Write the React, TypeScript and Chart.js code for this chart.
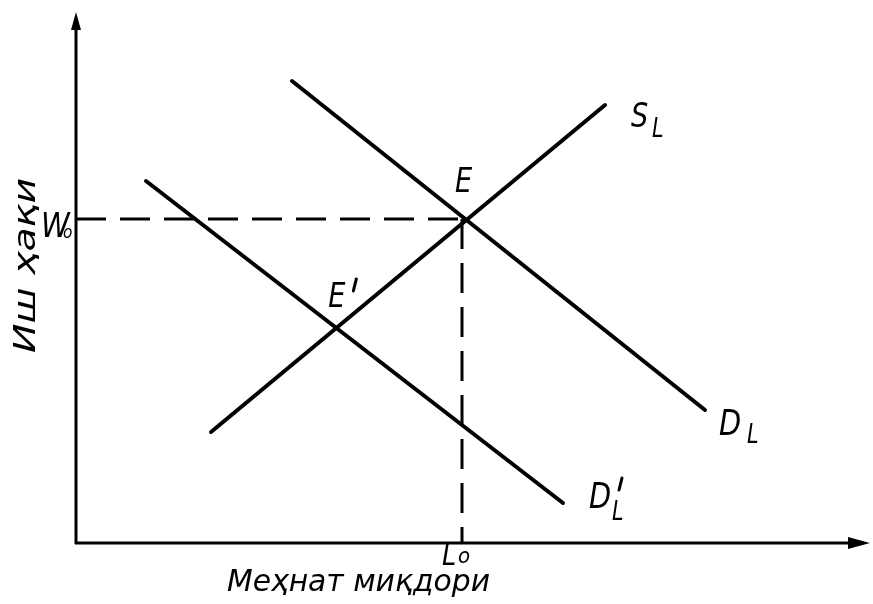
import React, { useEffect, useRef } from "react";
import { Chart, registerables } from "chart.js";

Chart.register(...registerables);

// Curve endpoints (quantity of labour, wage) in chart units
const supplyX = [135, 529];
const supplyY = [111, 438];
const demandX = [216, 629];
const demandY = [462, 133];
const demandShiftX = [70, 487];
const demandShiftY = [362, 40];
// Equilibrium levels
const wageLevel = 324; // W0
const laborLevel = 386; // L0
const axisMaxX = 794;
const axisMaxY = 531;

const xAxisTitle = "Меҳнат миқдори";
const yAxisTitle = "Иш ҳақи";

const FONT = "'DejaVu Sans', 'Liberation Sans', sans-serif";

function txt(
  ctx: CanvasRenderingContext2D,
  s: string,
  x: number,
  y: number,
  size: number,
  sx = 0.85
) {
  ctx.save();
  ctx.font = `italic ${size}px ${FONT}`;
  ctx.textBaseline = "alphabetic";
  ctx.textAlign = "left";
  ctx.fillStyle = "#000";
  ctx.translate(x, y);
  ctx.scale(sx, 1);
  ctx.fillText(s, 0, 0);
  ctx.restore();
}

function txtFit(
  ctx: CanvasRenderingContext2D,
  s: string,
  x: number,
  y: number,
  size: number,
  width: number,
  rot = 0
) {
  ctx.save();
  ctx.font = `italic ${size}px ${FONT}`;
  ctx.textBaseline = "alphabetic";
  ctx.textAlign = "left";
  ctx.fillStyle = "#000";
  const w = ctx.measureText(s).width;
  ctx.translate(x, y);
  ctx.rotate(rot);
  ctx.scale(width / w, 1);
  ctx.fillText(s, 0, 0);
  ctx.restore();
}

function prime(ctx: CanvasRenderingContext2D, x: number, yTop: number, len: number) {
  ctx.save();
  ctx.strokeStyle = "#000";
  ctx.lineWidth = 3;
  ctx.lineCap = "round";
  ctx.beginPath();
  ctx.moveTo(x + 3, yTop);
  ctx.lineTo(x, yTop + len);
  ctx.stroke();
  ctx.restore();
}

function intersect(
  ax: number[], ay: number[], bx: number[], by: number[]
): [number, number] {
  const m1 = (ay[1] - ay[0]) / (ax[1] - ax[0]);
  const m2 = (by[1] - by[0]) / (bx[1] - bx[0]);
  const x = (by[0] - ay[0] + m1 * ax[0] - m2 * bx[0]) / (m1 - m2);
  return [x, ay[0] + m1 * (x - ax[0])];
}

const diagramPlugin = {
  id: "diagram",
  afterDatasetsDraw(chart: any) {
    const ctx: CanvasRenderingContext2D = chart.ctx;
    const xs = chart.scales.x;
    const ys = chart.scales.y;
    const px = (v: number) => xs.getPixelForValue(v);
    const py = (v: number) => ys.getPixelForValue(v);
    const x0 = px(0);
    const y0 = py(0);
    const xEnd = px(axisMaxX);
    const yEnd = py(axisMaxY);

    ctx.save();
    ctx.strokeStyle = "#000";
    ctx.fillStyle = "#000";
    ctx.lineWidth = 3;
    ctx.lineCap = "butt";
    // y axis
    ctx.beginPath();
    ctx.moveTo(x0, y0 + 1);
    ctx.lineTo(x0, yEnd + 10);
    ctx.stroke();
    // x axis
    ctx.beginPath();
    ctx.moveTo(x0 - 1, y0);
    ctx.lineTo(xEnd - 10, y0);
    ctx.stroke();
    // arrowheads
    ctx.beginPath();
    ctx.moveTo(x0, yEnd);
    ctx.lineTo(x0 - 5, yEnd + 18);
    ctx.lineTo(x0 + 5, yEnd + 18);
    ctx.closePath();
    ctx.fill();
    ctx.beginPath();
    ctx.moveTo(xEnd, y0);
    ctx.lineTo(xEnd - 22, y0 - 6);
    ctx.lineTo(xEnd - 22, y0 + 6);
    ctx.closePath();
    ctx.fill();
    ctx.restore();

    // Axis titles
    txtFit(ctx, xAxisTitle, 227, 591, 31, 263);
    txtFit(ctx, yAxisTitle, 35, 353, 31, 175, -Math.PI / 2);

    // W0 / L0
    const wy = py(wageLevel);
    const lx = px(laborLevel);
    txt(ctx, "W", x0 - 35, wy + 18, 33, 0.88);
    txt(ctx, "o", x0 - 13, wy + 19, 17, 0.9);
    txt(ctx, "L", lx - 20, y0 + 22, 30, 0.85);
    txt(ctx, "o", lx - 4, y0 + 20, 22, 0.9);

    // E and E'
    txt(ctx, "E", lx - 7, wy - 27, 34, 0.8);
    const [ex, ey] = intersect(supplyX, supplyY, demandShiftX, demandShiftY);
    const epx = px(ex);
    const epy = py(ey);
    txt(ctx, "E", epx - 8, epy - 21, 34, 0.8);
    prime(ctx, epx + 17, epy - 49, 12);

    // S_L
    const sx = px(supplyX[1]);
    const sy = py(supplyY[1]);
    txt(ctx, "S", sx + 26, sy + 22, 34, 0.8);
    txt(ctx, "L", sx + 47, sy + 32, 26, 0.8);

    // D_L
    const dx = px(demandX[1]);
    const dy = py(demandY[1]);
    txt(ctx, "D", dx + 14, dy + 25, 36, 0.8);
    txt(ctx, "L", dx + 42, dy + 33, 26, 0.8);

    // D'_L
    const d2x = px(demandShiftX[1]);
    const d2y = py(demandShiftY[1]);
    txt(ctx, "D", d2x + 26, d2y + 5, 36, 0.8);
    prime(ctx, d2x + 56, d2y - 25, 12);
    txt(ctx, "L", d2x + 49, d2y + 17, 26, 0.8);
  },
};

const pts = (xs: number[], ys: number[]) => xs.map((x, i) => ({ x, y: ys[i] }));

export default function App() {
  const ref = useRef<HTMLCanvasElement>(null);

  useEffect(() => {
    const canvas = ref.current;
    if (!canvas) return;
    const curve = {
      borderColor: "#000",
      borderWidth: 4,
      pointRadius: 0,
      showLine: true,
      fill: false,
      tension: 0,
      borderCapStyle: "round" as const,
    };
    const dashed = {
      borderColor: "#000",
      borderWidth: 3,
      pointRadius: 0,
      showLine: true,
      fill: false,
      borderDash: [30, 14],
      borderCapStyle: "butt" as const,
    };
    const chart = new Chart(canvas, {
      type: "scatter",
      data: {
        datasets: [
          {
            label: "W0",
            data: pts([0, laborLevel], [wageLevel, wageLevel]),
            ...dashed,
          },
          {
            label: "L0",
            data: pts([laborLevel, laborLevel], [wageLevel, 0]),
            ...dashed,
          },
          { label: "S_L", data: pts(supplyX, supplyY), ...curve },
          { label: "D_L", data: pts(demandX, demandY), ...curve },
          { label: "D'_L", data: pts(demandShiftX, demandShiftY), ...curve },
        ],
      },
      options: {
        responsive: false,
        animation: false,
        layout: { padding: { left: 76, right: 3, top: 12, bottom: 61 } },
        plugins: {
          legend: { display: false },
          tooltip: { enabled: false },
        },
        scales: {
          x: { type: "linear", min: 0, max: axisMaxX, display: false },
          y: { type: "linear", min: 0, max: axisMaxY, display: false },
        },
      },
      plugins: [diagramPlugin],
    });
    return () => chart.destroy();
  }, []);

  return (
    <div style={{ position: "fixed", left: 0, top: 0, width: 873, height: 604, background: "#fff" }}>
      <canvas ref={ref} width={873} height={604} style={{ display: "block" }} />
    </div>
  );
}
